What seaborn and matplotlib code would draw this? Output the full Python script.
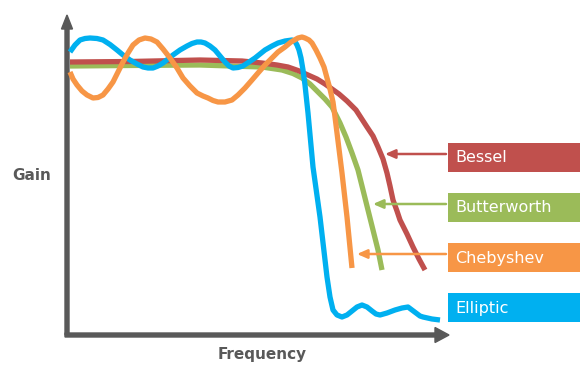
import matplotlib
matplotlib.use('Agg')
import seaborn as sns
import matplotlib.pyplot as plt
from matplotlib.patches import Rectangle

# filter responses (frequency, gain in arbitrary units)
bessel_freq = [3, 63, 133, 175, 195, 210, 221, 231, 241, 250, 258, 265, 272, 280, 289,
               300, 306, 311, 316, 320, 323, 326, 330, 333, 340, 346, 352, 358]
bessel_gain = [273, 273.5, 275, 274, 272, 270, 268, 264.5, 260, 256, 251, 246, 241, 234, 225,
               208, 199, 188, 176, 162, 149, 135, 124, 115, 101, 88, 76, 65]

butter_freq = [3, 60, 133, 195, 215, 226, 235, 243, 251, 258, 265, 273, 279, 285, 291,
               296, 301, 306, 311, 315]
butter_gain = [269, 269.5, 270, 268, 265, 261.5, 257, 251, 243, 236, 228, 212, 198, 182, 165,
               145, 125, 105, 85, 65]

cheby_freq = [3, 6, 10, 15, 20, 26, 31, 36, 41, 46, 51, 56, 61, 66, 72, 78, 84, 90, 96,
              103, 110, 116, 123, 130, 136, 141, 146, 151, 158, 165, 171, 178, 185, 191,
              198, 205, 211, 218, 224, 231, 235, 238, 242, 245, 249, 253, 257, 260, 263,
              266, 268, 270, 275, 280, 285]
cheby_gain = [263, 256, 250, 244, 240, 237, 237.5, 240, 246, 253, 263, 273, 282, 290, 295,
              297, 296, 293, 286, 277, 267, 257, 249, 242, 239, 237, 234.5, 233, 233, 235,
              240, 247, 255, 262, 270, 277, 283, 288, 293, 297, 298, 297, 295, 292, 285,
              277, 268, 257, 246, 233, 218, 202, 162, 118, 67]

ellip_freq = [3, 8, 13, 18, 23, 30, 36, 43, 50, 56, 63, 70, 76, 81, 86, 91, 96, 101, 106,
              113, 120, 125, 130, 134, 138, 143, 148, 153, 158, 162, 166, 171, 176, 182,
              188, 193, 198, 205, 211, 218, 225, 228, 230, 232, 234, 236, 238, 241, 246,
              253, 260, 263, 266, 270, 275, 280, 285, 290, 295, 300, 305, 309, 313, 320,
              328, 335, 341, 345, 349, 353, 356, 365, 373]
ellip_gain = [283, 290, 295, 296.5, 297, 296.5, 295, 290.5, 285, 280, 275, 271, 268, 267,
              267, 269, 272, 276, 280, 285, 289, 291.5, 293, 293, 292, 289, 285, 279, 273,
              269, 267, 267.5, 269, 273, 277, 281, 285, 289, 292, 294, 295, 293.5, 290,
              285, 277, 265, 250, 222, 168, 118, 58, 38, 25, 20, 18, 20, 24, 28, 30, 28,
              24, 21, 20, 22, 25, 27, 28, 25, 22, 19, 18, 16, 15]

labels = ['Bessel', 'Butterworth', 'Chebyshev', 'Elliptic']
colors = ['#C0504D', '#9BBB59', '#F79646', '#00B0F0']
label_gain = [178, 128, 78, 28]        # box centres
arrow_tip = [318, 306, 290, None]      # where each pointer lands on its curve

grey = '#595959'

sns.set_theme(style='white')
plt.rcParams['font.family'] = ['DejaVu Sans']

fig = plt.figure(figsize=(5.8, 3.76), dpi=100)
ax = fig.add_axes([0, 0, 1, 1])
ax.set_xlim(-67, 513)
ax.set_ylim(-41, 335)
ax.axis('off')

# axes drawn as arrows
ax.arrow(0, 0, 0, 320, width=4, head_width=11, head_length=14,
         length_includes_head=True, color=grey, zorder=1)
ax.arrow(-2, 0, 384, 0, width=4, head_width=15, head_length=14,
         length_includes_head=True, color=grey, zorder=1)

curves = [
    (butter_freq, butter_gain, colors[1]),
    (bessel_freq, bessel_gain, colors[0]),
    (ellip_freq, ellip_gain, colors[3]),
    (cheby_freq, cheby_gain, colors[2]),
]
for z, (f, g, c) in enumerate(curves):
    sns.lineplot(x=f, y=g, sort=False, estimator=None, ax=ax, color=c,
                 linewidth=3.8, solid_capstyle='butt', solid_joinstyle='round',
                 zorder=2 + z)

# labels with pointers
for name, c, gy, tip in zip(labels, colors, label_gain, arrow_tip):
    ax.add_patch(Rectangle((381, gy - 14.5), 140, 29, color=c, lw=0, zorder=6))
    ax.text(388, gy - 1, name, color='white', fontsize=11.5, va='center',
            ha='left', zorder=7)
    if tip is not None:
        ax.annotate('', xy=(tip, gy + 3), xytext=(379, gy + 3),
                    arrowprops=dict(arrowstyle='-|>,head_length=0.5,head_width=0.22',
                                    color=c, lw=1.8, shrinkA=0, shrinkB=0),
                    zorder=8)

ax.text(-35, 160, 'Gain', color=grey, fontsize=11, fontweight='bold',
        ha='center', va='center')
ax.text(195, -20, 'Frequency', color=grey, fontsize=11, fontweight='bold',
        ha='center', va='center')

fig.savefig('out.png', dpi=100)
